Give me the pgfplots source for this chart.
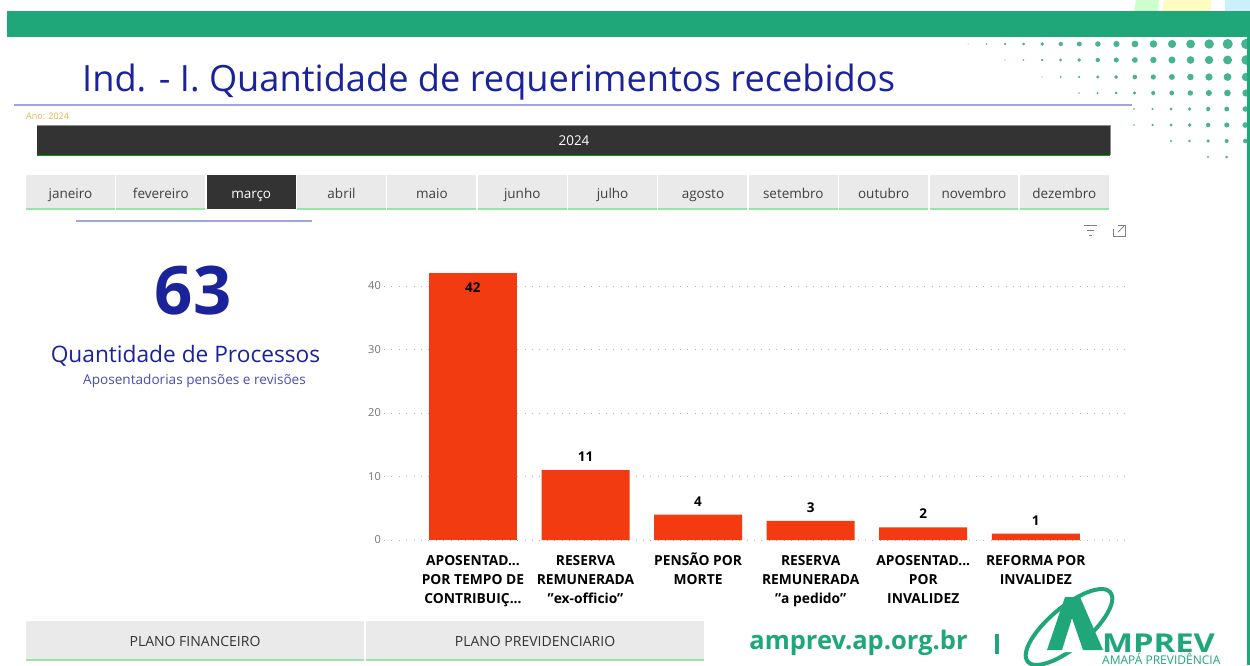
\documentclass[border=0pt]{standalone}
\usepackage{pgfplots}
\pgfplotsset{compat=1.18}
\usepackage{fontspec}
\setmainfont{Open Sans}[Ligatures=ResetAll]
\definecolor{gr}{HTML}{20A779}
\definecolor{dots}{HTML}{45B58E}
\definecolor{tit}{HTML}{1A239A}
\definecolor{rul}{HTML}{9FA6DA}
\definecolor{dark}{HTML}{333333}
\definecolor{tab}{HTML}{EAEAEA}
\definecolor{lg}{HTML}{98E6A6}
\definecolor{barc}{HTML}{F33B12}
\definecolor{gold}{HTML}{E3B54C}
\newcommand{\fs}[1]{\fontsize{#1}{#1}\selectfont}
\newcommand{\st}{\rule{0pt}{15pt}}
\begin{document}
\begin{tikzpicture}[x=1pt,y=-1pt]
\clip (0,0) rectangle (1250,665);
\fill[white] (0,0) rectangle (1250,665);
% top stripes
\fill[green!20] (1136,0) -- (1159,0) -- (1158,11) -- (1134,11) -- cycle;
\fill[yellow!25] (1164,0) -- (1211,0) -- (1211,11) -- (1162,11) -- cycle;
\fill[cyan!20] (1225,0) -- (1250,0) -- (1250,11) -- (1225,11) -- cycle;
\fill[gr] (7,11) rectangle (1250,37);
% dots
\foreach \r/\y/\s/\n in {0/44/968/15,1/60/1005/13,2/77/1042/11,3/93/1079/9,4/109/1134/6,5/125/1134/6,6/141/1171/4,7/157/1208/1}{
  \foreach \i in {0,...,\n}{
    \pgfmathsetmacro{\xx}{\s+\i*18.55}
    \pgfmathsetmacro{\rr}{min(5.2,0.5+(\xx-\s+(\r*5))*0.0175)}
    \fill[dots] (\xx,\y) circle[radius=\rr];
  }
}
\fill[gr] (1247,37) rectangle (1250,665);
% title
\node[anchor=base west,text=tit,inner sep=0] at (82,91) {\fs{36.2}Ind. - I. Quantidade de requerimentos recebidos};
\draw[rul,line width=1.5] (14,105) -- (1132,105);
\node[anchor=west,text=gold,inner sep=0] at (26,116) {\fs{9}Ano: 2024};
\fill[dark] (37,125) rectangle (1110,155);
\draw[black!45,line width=.7] (37,125) -- (1110,125) -- (1110,155);
\draw[green!60!black,line width=1] (37,155) -- (1110,155);
\node[text=white,inner sep=0] at (574,141) {\fs{13.5}2024};
% months
\foreach \m [count=\i from 0] in {janeiro,fevereiro,março,abril,maio,junho,julho,agosto,setembro,outubro,novembro,dezembro}{
  \pgfmathsetmacro{\xa}{26+\i*90.35}
  \pgfmathsetmacro{\xb}{\xa+88.9}
  \pgfmathsetmacro{\xc}{\xa+44.5}
  \ifnum\i=2
    \fill[dark] (\xa,175) rectangle (\xb,209);
    \node[anchor=base,text=white,inner sep=0] at (\xc,198) {\fs{13.5}\m};
  \else
    \fill[tab] (\xa,175) rectangle (\xb,208);
    \fill[lg] (\xa,208) rectangle (\xb,210);
    \node[anchor=base,text=black!75,inner sep=0] at (\xc,198) {\fs{13.5}\m};
  \fi
}
\draw[rul,line width=1.5] (76,221) -- (312,221);
% filter and focus icons
\draw[black!50,line width=.7] (1084,225) -- (1097,225) (1087,230) -- (1094,230) (1089,235) -- (1092,235);
\draw[black!50,line width=.7] (1113,229) -- (1113,236) -- (1125,236) -- (1125,225) -- (1118,225);
\draw[black!50,line width=.7] (1118,232) -- (1124,226);
% KPI
\node[text=tit,inner sep=0,font=\bfseries] at (193,291) {\fs{67}63};
\node[text=tit,inner sep=0] at (185.5,355.5) {\fs{22.7}Quantidade de Processos};
\node[text=tit!80,inner sep=0] at (194.5,380.5) {\fs{13.6}Aposentadorias pensões e revisões};
% chart
\begin{axis}[
  at={(384pt,-540pt)},anchor=south west,
  scale only axis,width=743pt,height=266.7pt,
  xmin=-0.79,xmax=5.81,ymin=0,ymax=42,
  axis line style={draw=none},
  major tick style={draw=none},
  ymajorgrids,
  grid style={black!30,line width=0.8pt,dash pattern=on 0.9pt off 6.5pt},
  clip=false,
  ytick={0,10,20,30,40},
  xtick={0,1,2,3,4,5},
  xticklabels={{\st APOSENTAD.{}.{}.\\POR TEMPO DE\\CONTRIBUIÇ.{}.{}.},{\st RESERVA\\REMUNERADA\\"ex-officio"},{\st PENSÃO POR\\MORTE},{\st RESERVA\\REMUNERADA\\"a pedido"},{\st APOSENTAD.{}.{}.\\POR\\INVALIDEZ},{\st REFORMA POR\\INVALIDEZ}},
  x tick label style={font=\bfseries\fontsize{13.8}{19}\selectfont,align=center,anchor=north,text=black,inner sep=0,yshift=-6pt},
  y tick label style={font=\fs{11},text=black!55,inner sep=0,xshift=-3pt},
  /pgf/number format/assume math mode=true,
  ybar,bar width=88pt,
  every node near coord/.append style={font=\bfseries\fs{13.5},text=black},
]
\addplot[fill=barc,draw=none,bar shift=0pt,nodes near coords,nodes near coords align={below},every node near coord/.append style={yshift=-6pt}] coordinates {(0,42)};
\addplot[fill=barc,draw=none,bar shift=0pt,nodes near coords,nodes near coords align={above},every node near coord/.append style={yshift=5pt}] coordinates {(1,11)(2,4)(3,3)(4,2)(5,1)};
\end{axis}
% bottom tabs
\fill[tab] (26,621) rectangle (364,659);
\fill[lg] (26,659) rectangle (364,661);
\fill[tab] (366,621) rectangle (704,659);
\fill[lg] (366,659) rectangle (704,661);
\node[text=black!80,inner sep=0] at (195,641) {\fs{14}PLANO FINANCEIRO};
\node[text=black!80,inner sep=0] at (535,641) {\fs{14}PLANO PREVIDENCIARIO};
% footer
\node[text=gr,inner sep=0,font=\bfseries] at (858.5,643) {\fs{25.5}amprev.ap.org.br};
\fill[gr] (995,634) rectangle (999,654);
% logo
\draw[gr,line width=4] (1069,627) ellipse[x radius=54,y radius=20,rotate=40];
\fill[white] (1062,610) -- (1082,610) -- (1104,652) -- (1046,652) -- cycle;
\fill[gr] (1065,597) -- (1080,597) -- (1103,650) -- (1083,650) -- (1072,618) -- (1062,650) -- (1047,650) -- cycle;
\node[text=gr,inner sep=0,font=\bfseries,anchor=base west] at (1102,652) {\scalebox{1.26}[1]{\fs{26}MPREV}};
\node[text=gr,inner sep=0,anchor=base west] at (1102,664) {\fs{12}AMAPÁ PREVIDÊNCIA};
\end{tikzpicture}
\end{document}
